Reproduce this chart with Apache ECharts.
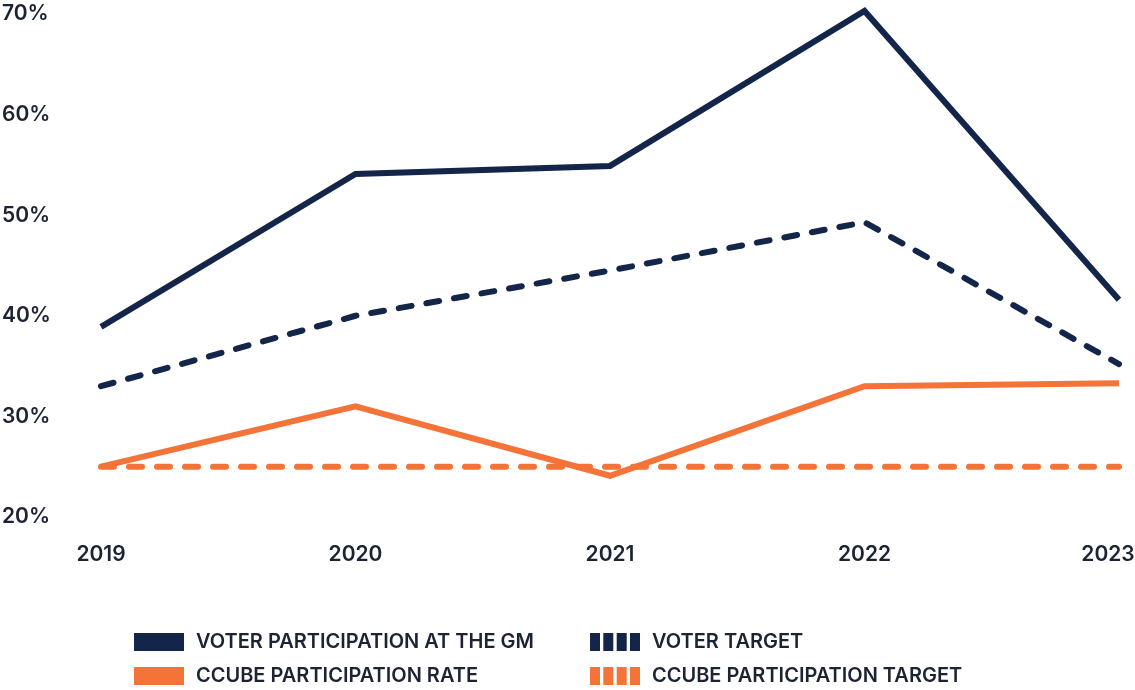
<!DOCTYPE html>
<html>
<head>
<meta charset="utf-8">
<script src="https://cdn.jsdelivr.net/npm/echarts@6/dist/echarts.min.js"></script>
<style>
  html, body { margin: 0; padding: 0; background: #ffffff; }
  #chart { width: 1135px; height: 690px; }
</style>
</head>
<body>
<div id="chart"></div>
<script>
// Participation rates per year (percent)
const years = ['2019', '2020', '2021', '2022', '2023'];
const voterParticipation = [38.9, 54.1, 54.9, 70.3, 41.6];
const voterTarget = [33.0, 40.0, 44.5, 49.3, 35.2];
const ccubeParticipation = [25.0, 31.0, 24.1, 33.0, 33.3];
const ccubeTarget = [25, 25, 25, 25, 25];
const yTicks = [20, 30, 40, 50, 60, 70];

const NAVY = '#14254a';
const ORANGE = '#f47339';
const TEXT = '#1c2333';
const FONT = 'Inter, "Noto Sans", sans-serif';

const names = {
  vp: 'VOTER PARTICIPATION AT THE GM',
  vt: 'VOTER TARGET',
  cp: 'CCUBE PARTICIPATION RATE',
  ct: 'CCUBE PARTICIPATION TARGET'
};

// Four vertical bars, used as the key for the dashed target lines
const barsIcon = 'path://M0,0h10v18h-10z M13.3,0h10v18h-10z M26.7,0h10v18h-10z M40,0h10v18h-10z';

function lineSeries(name, data, color, dashed) {
  return {
    name: name,
    type: 'line',
    data: data,
    symbol: 'none',
    clip: false,
    color: color,
    itemStyle: { color: color },
    lineStyle: {
      color: color,
      width: 6,
      type: dashed ? [13, 15] : 'solid',
      cap: dashed ? 'round' : 'butt',
      join: 'miter'
    },
    emphasis: { disabled: true }
  };
}

const legendCommon = {
  orient: 'vertical',
  itemWidth: 50,
  itemHeight: 18,
  itemGap: 14,
  height: 60,
  selectedMode: false,
  itemStyle: { borderWidth: 0 },
  textStyle: { color: TEXT, fontFamily: FONT, fontSize: 20, fontWeight: 600, padding: [0, 0, 0, 7] }
};

const axisFont = { color: TEXT, fontFamily: FONT, fontSize: 21, fontWeight: 600 };

// The last year label is nudged left so it stays inside the canvas
const xCategories = years.map((y, i) =>
  i === years.length - 1 ? { value: y, textStyle: { padding: [0, 22, 0, 0] } } : y
);

const chart = echarts.init(document.getElementById('chart'));
chart.setOption({
  animation: false,
  backgroundColor: '#ffffff',
  grid: { left: 101, right: 16, top: 14, bottom: 173, containLabel: false, outerBoundsMode: 'none' },
  xAxis: {
    type: 'category',
    data: xCategories,
    boundaryGap: false,
    axisLine: { show: false },
    axisTick: { show: false },
    splitLine: { show: false },
    axisLabel: Object.assign({ margin: 27 }, axisFont)
  },
  yAxis: {
    type: 'value',
    min: yTicks[0],
    max: yTicks[yTicks.length - 1],
    interval: 10,
    axisLine: { show: false },
    axisTick: { show: false },
    splitLine: { show: false },
    axisLabel: Object.assign({
      align: 'left', margin: 99,
      formatter: v => v + '%'
    }, axisFont)
  },
  legend: [
    Object.assign({}, legendCommon, {
      left: 129, top: 627,
      data: [{ name: names.vp, icon: 'rect' }, { name: names.cp, icon: 'rect' }]
    }),
    Object.assign({}, legendCommon, {
      left: 585, top: 627,
      data: [{ name: names.vt, icon: barsIcon }, { name: names.ct, icon: barsIcon }]
    })
  ],
  series: [
    lineSeries(names.ct, ccubeTarget, ORANGE, true),
    lineSeries(names.cp, ccubeParticipation, ORANGE, false),
    lineSeries(names.vt, voterTarget, NAVY, true),
    lineSeries(names.vp, voterParticipation, NAVY, false)
  ]
});
</script>
</body>
</html>
